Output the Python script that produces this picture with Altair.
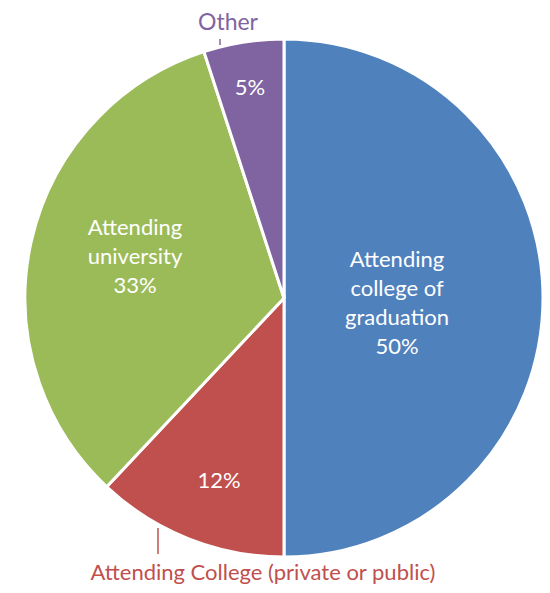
import altair as alt
import pandas as pd
import json

categories = ["Attending college of graduation", "Attending College (private or public)",
              "Attending university", "Other"]
values = [50, 12, 33, 5]
colors = ["#4F81BD", "#C0504D", "#9BBB59", "#8064A2"]
order = [0, 1, 2, 3]

df = pd.DataFrame({"category": categories, "value": values, "order": order})

FONT = "Lato"
CX, CY, R = 276, 290, 259

base = alt.Chart(df)

arcs = base.mark_arc(stroke="white", strokeWidth=3, x=CX, y=CY, outerRadius=R).encode(
    theta=alt.Theta("value:Q", stack=True),
    order=alt.Order("order:Q"),
    color=alt.Color("category:N", scale=alt.Scale(domain=categories, range=colors), legend=None),
)

def inner_label(cat, prefix, x, y):
    expr = json.dumps(prefix + ("\n" if prefix else "")) + " + toString(datum.value) + '%'"
    return base.transform_filter(alt.datum.category == cat).transform_calculate(
        txt=expr
    ).mark_text(font=FONT, fontSize=22, color="white", align="center",
                baseline="alphabetic", lineBreak="\n", lineHeight=29, x=x, y=y).encode(
        text="txt:N"
    )

lab_blue = inner_label(categories[0], "Attending\ncollege of\ngraduation", 389, 259)
lab_green = inner_label(categories[2], "Attending\nuniversity", 127, 227)
lab_red = inner_label(categories[1], "", 211, 480)
lab_purple = inner_label(categories[3], "", 242, 87)

other_txt = base.transform_filter(alt.datum.category == "Other").mark_text(
    font=FONT, fontSize=23, color="#8064A2", align="center", baseline="alphabetic", x=220, y=22
).encode(text="category:N")

bottom_txt = base.transform_filter(alt.datum.category == categories[1]).mark_text(
    font=FONT, fontSize=22, color="#C0504D", align="center", baseline="alphabetic", x=255, y=572
).encode(text="category:N")

tick_purple = base.transform_filter(alt.datum.category == "Other").mark_rule(
    color="#8064A2", strokeWidth=1.5
).encode(x=alt.value(212), y=alt.value(31), y2=alt.value(37))

tick_red = base.transform_filter(alt.datum.category == categories[1]).mark_rule(
    color="#C0504D", strokeWidth=1.5
).encode(x=alt.value(150), y=alt.value(520), y2=alt.value(546))

chart = alt.layer(
    arcs, lab_blue, lab_green, lab_red, lab_purple, other_txt, bottom_txt, tick_purple, tick_red
).properties(
    width=534, height=577, padding=0, autosize=alt.AutoSizeParams(type="none")
).configure_view(stroke=None)

chart.save("out.html", embed_options={"renderer": "svg", "actions": False})
